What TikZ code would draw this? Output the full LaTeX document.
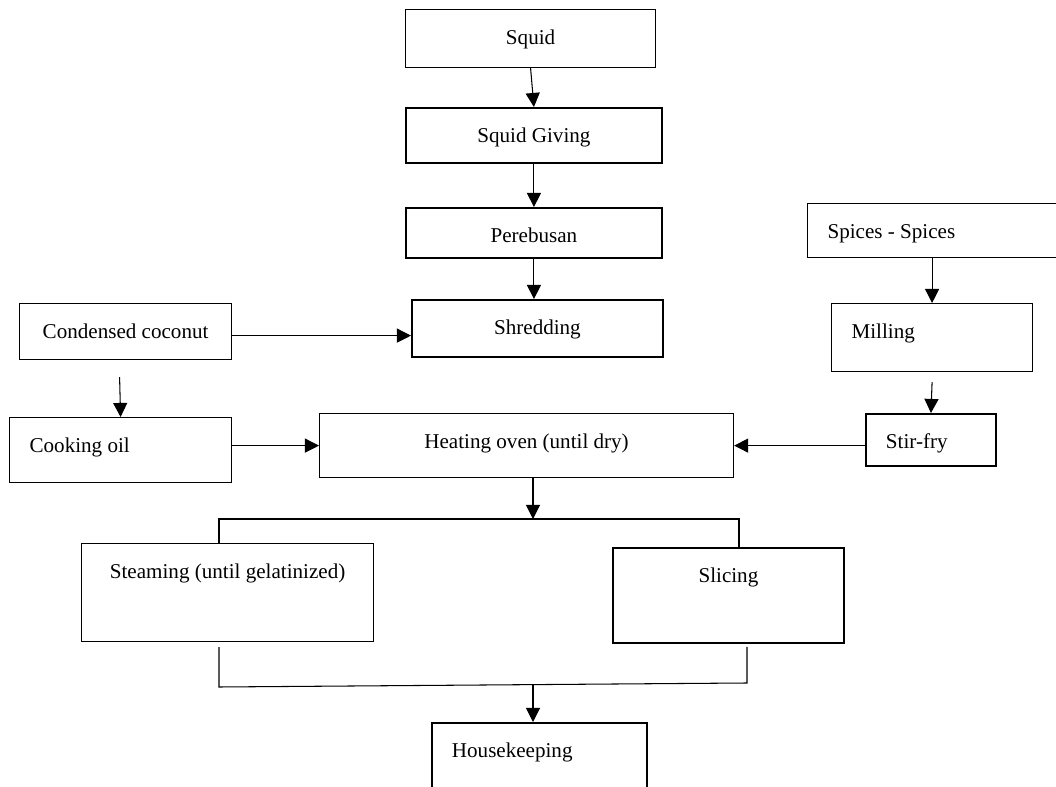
\documentclass[tikz,border=0pt]{standalone}
\usepackage{fontspec}
\setmainfont{Liberation Serif}
\usetikzlibrary{arrows.meta,calc}

\begin{document}
\begin{tikzpicture}[x=0.02cm, y=-0.02cm,
    box/.style={rectangle, draw=black, line width=0.7pt, inner ysep=0pt, inner xsep=0pt,
                text height=0.7cm, anchor=north west, font=\fontsize{12}{14}\selectfont},
    lbox/.style={box, align=flush left, inner xsep=0.4cm},
    heavy/.style={line width=1.1pt},
    arr/.style={-{Triangle[length=8pt, width=8pt]}, line width=0.6pt},
    link/.style={line width=0.6pt}]

    \useasboundingbox (0,0) rectangle (1056,787);

    % Squid line
    \node[box, minimum width=5cm, text depth=0.46cm] (squid) at (405,9) {Squid};
    \node[box, heavy, minimum width=5.12cm, text depth=0.40cm] (giving) at (405,107) {Squid Giving};
    \node[box, heavy, minimum width=5.12cm, text depth=0.30cm] (boil) at (405,207) {Perebusan};
    \node[box, heavy, minimum width=5.02cm, text depth=0.44cm] (shred) at (411,299) {Shredding};

    % Coconut side
    \node[box, minimum width=4.24cm, text depth=0.42cm] (coco) at (19,303) {Condensed coconut};
    \node[lbox, text width=3.64cm, text depth=0.60cm] (oil) at (9,417) {Cooking oil};

    \node[box, minimum width=8.28cm, text depth=0.58cm] (oven) at (319,413) {Heating oven (until dry)};

    % Spice side
    \node[lbox, text width=4.46cm, text depth=0.38cm] (spice) at (807,203) {Spices - Spices};
    \node[lbox, text width=3.22cm, text depth=0.66cm] (mill) at (831,303) {Milling};
    \node[lbox, heavy, text width=1.80cm, text depth=0.34cm] (fry) at (865,413) {Stir-fry};

    % Lower part
    \node[box, minimum width=5.84cm, text depth=1.26cm] (steam) at (81,543) {Steaming (until gelatinized)};
    \node[box, heavy, minimum width=4.62cm, text depth=1.20cm] (slice) at (612,547) {Slicing};
    \node[lbox, heavy, text width=3.50cm, text depth=0.86cm] (house) at (431,722) {Housekeeping};

    \coordinate (splitL) at (219,519);
    \coordinate (splitM) at (533,519);
    \coordinate (splitR) at (739,519);
    \coordinate (joinL) at (219,687);
    \coordinate (joinM) at (533,685);
    \coordinate (joinR) at (747,683);
    \coordinate (cocoout) at ($(coco.east)+(0,4)$);

    % Arrows
    \draw[arr] (squid.south) -- (giving.north);
    \draw[arr] (giving.south) -- (boil.north);
    \draw[arr] (boil.south) -- (boil.south |- shred.north);
    \draw[arr] (cocoout) -- (cocoout -| shred.west);
    \draw[arr] ($(coco.south)+(-6,17)$) -- (oil.north);
    \draw[arr] (oil.east |- oven.west) -- (oven.west);
    \draw[arr] (mill.north |- spice.south) -- (mill.north);
    \draw[arr] ($(mill.south)+(0,10)$) -- (fry.north);
    \draw[arr] (fry.west |- oven.east) -- (oven.east);
    \draw[arr] (oven.south -| splitM) -- (splitM);

    % Split and join
    \draw[link] (splitL |- steam.north) -- (splitL) -- (splitR) -- (splitR |- slice.north);
    \draw[link] ($(steam.south -| joinL)+(0,5)$) -- (joinL) -- (joinR) -- ($(slice.south -| joinR)+(0,3)$);
    \draw[arr] (joinM) -- (joinM |- house.north);

\end{tikzpicture}
\end{document}
